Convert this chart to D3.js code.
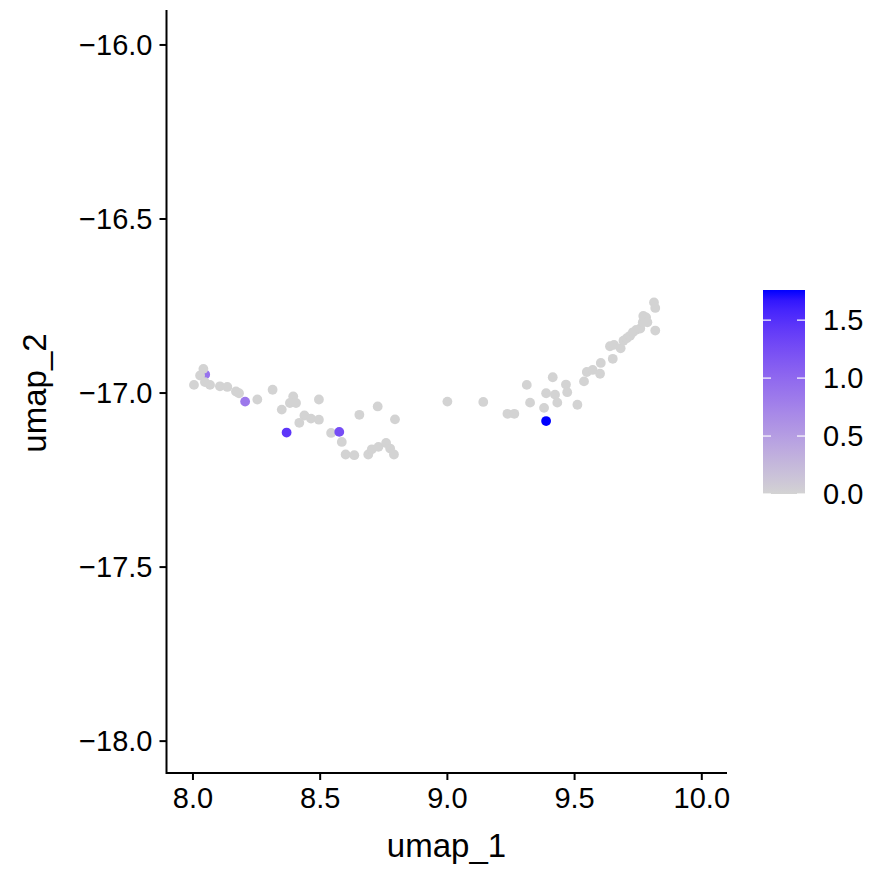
<!DOCTYPE html>
<html><head><meta charset="utf-8">
<script src="https://cdn.jsdelivr.net/npm/d3@7"></script>
<style>body{margin:0;background:#fff}svg{display:block;font-family:"Liberation Sans",Arial,sans-serif}</style>
</head><body>
<svg id="c" width="887" height="875"></svg>
<script>
const umap1 = [8.050,8.043,8.030,8.006,8.049,8.069,8.108,8.137,8.171,8.183,8.255,8.315,8.396,8.383,8.407,8.351,8.497,8.440,8.420,8.466,8.497,8.545,8.587,8.602,8.636,8.656,8.728,8.796,8.691,8.705,8.731,8.761,8.777,8.792,
  9.002,9.143,9.238,9.265,9.314,9.327,9.416,9.390,9.425,9.434,9.382,9.468,9.473,9.513,9.539,9.550,9.573,9.605,9.602,9.641,9.652,9.657,9.683,9.694,9.707,9.720,9.731,9.744,9.760,9.770,9.783,9.772,9.788,9.814,9.819,9.819,
  8.207,8.370,8.577,9.390];
const umap2 = [-16.948,-16.932,-16.951,-16.978,-16.970,-16.978,-16.982,-16.984,-16.997,-17.002,-17.020,-16.992,-17.011,-17.030,-17.030,-17.049,-17.020,-17.066,-17.087,-17.075,-17.078,-17.116,-17.142,-17.178,-17.180,-17.064,-17.040,-17.077,-17.178,-17.163,-17.156,-17.145,-17.161,-17.178,
  -17.026,-17.027,-17.061,-17.061,-16.978,-17.029,-16.956,-17.002,-17.006,-17.029,-17.044,-16.977,-16.999,-17.035,-16.968,-16.941,-16.935,-16.915,-16.946,-16.867,-16.903,-16.863,-16.873,-16.851,-16.844,-16.837,-16.827,-16.820,-16.816,-16.798,-16.784,-16.780,-16.798,-16.741,-16.757,-16.822,
  -17.026,-17.115,-17.113,-17.082];
const expr = [0.9,0,0,0,0,0,0,0,0,0,0,0,0,0,0,0,0,0,0,0,0,0,0,0,0,0,0,0,0,0,0,0,0,0,
  0,0,0,0,0,0,0,0,0,0,0,0,0,0,0,0,0,0,0,0,0,0,0,0,0,0,0,0,0,0,0,0,0,0,0,0,
  0.85,1.45,1.25,1.76];
const xTicks = [8.0,8.5,9.0,9.5,10.0];
const yTicks = [-16.0,-16.5,-17.0,-17.5,-18.0];
const legendTicks = [0.0,0.5,1.0,1.5];
const exprMax = 1.76;

const svg = d3.select("#c");
const x = d3.scaleLinear().domain([7.896,10.101]).range([166,727]);
const y = d3.scaleLinear().domain([-18.093,-15.901]).range([773,10]);
const col = d3.scaleLinear().domain([0,exprMax]).range(["#D3D3D3","#0000FF"]).interpolate(d3.interpolateLab);

// points
const pts = umap1.map((u,i)=>({u, v:umap2[i], e:expr[i]}));
svg.append("g").selectAll("circle").data(pts).join("circle")
  .attr("cx",d=>x(d.u)).attr("cy",d=>y(d.v)).attr("r",4.9)
  .attr("fill",d=>col(d.e));

// axes
const fmt = d3.format(".1f");
const xa = svg.append("g").attr("transform","translate(0,773)")
  .call(d3.axisBottom(x).tickValues(xTicks).tickFormat(fmt).tickSizeOuter(0).tickSize(7).tickPadding(5));
const ya = svg.append("g").attr("transform","translate(166.5,0)")
  .call(d3.axisLeft(y).tickValues(yTicks).tickFormat(d=>fmt(d).replace("-","\u2212")).tickSizeOuter(0).tickSize(7).tickPadding(7));
[xa,ya].forEach(a=>{
  a.select(".domain").remove();
  a.selectAll(".tick line").attr("stroke","#000").attr("stroke-width",2);
  a.selectAll(".tick text").attr("fill","#000").attr("font-size",29).attr("font-family","Liberation Sans, Arial, sans-serif");
});
xa.selectAll(".tick text").attr("dy","0.78em");
ya.selectAll(".tick text").attr("dy","0.35em");
svg.append("line").attr("x1",x.range()[0]).attr("x2",x.range()[1]).attr("y1",773).attr("y2",773).attr("stroke","#000").attr("stroke-width",2);
svg.append("line").attr("x1",166.5).attr("x2",166.5).attr("y1",y.range()[1]).attr("y2",774).attr("stroke","#000").attr("stroke-width",2);

svg.append("text").attr("x",446.5).attr("y",857).attr("text-anchor","middle")
  .attr("font-size",33).text("umap_1");
svg.append("text").attr("transform","translate(46,393) rotate(-90)").attr("text-anchor","middle")
  .attr("font-size",33).text("umap_2");

// colorbar
const ly = d3.scaleLinear().domain([0,exprMax]).range([494,290]);
const defs = svg.append("defs");
const grad = defs.append("linearGradient").attr("id","g").attr("x1",0).attr("y1",1).attr("x2",0).attr("y2",0);
d3.range(0,1.0001,0.05).forEach(t=>grad.append("stop").attr("offset",t).attr("stop-color",col(t*exprMax)));
svg.append("rect").attr("x",763).attr("y",ly(exprMax)).attr("width",42).attr("height",ly(0)-ly(exprMax)).attr("fill","url(#g)");
const lt = svg.append("g");
legendTicks.forEach(v=>{
  lt.append("line").attr("x1",763).attr("x2",771).attr("y1",ly(v)).attr("y2",ly(v)).attr("stroke","#fff").attr("stroke-width",1.2);
  lt.append("line").attr("x1",797).attr("x2",805).attr("y1",ly(v)).attr("y2",ly(v)).attr("stroke","#fff").attr("stroke-width",1.2);
  lt.append("text").attr("x",823).attr("y",ly(v)).attr("dy","0.35em").attr("font-size",29).text(fmt(v));
});
</script>
</body></html>
